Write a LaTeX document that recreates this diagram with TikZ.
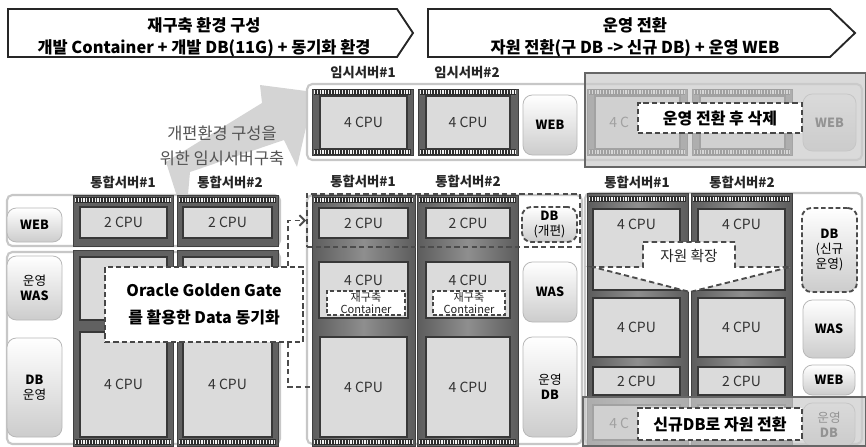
\documentclass[tikz,border=0pt]{standalone}
\usepackage{fontspec}
\setmainfont{Noto Sans CJK KR}
\usetikzlibrary{arrows.meta}
\newcommand\Bx[6]{\node[#1, inner sep=0pt, minimum width={(#4-#2)*0.75pt}, minimum height={(#5-#3)*0.75pt}] (#6) at ({(#2+#4)/2},{(#3+#5)/2})}
\newcommand\Pins[3]{\fill[black!82] (#1,#3-3) rectangle (#2,#3+3);\draw[black!6, line width=3.6pt, dash pattern=on 0.9pt off 1.2pt] (#1,#3) -- (#2,#3);}
\begin{document}
\begin{tikzpicture}[x=0.75pt,y=-0.75pt,
  hdr/.style={draw=black!85, line width=1.4pt, fill=white},
  htxt/.style={align=center, font=\fontsize{12.3}{16.5}\selectfont\bfseries, text=black},
  panel/.style={draw=black!22, line width=1.6pt, rounded corners=4pt, fill=white},
  chipc/.style={fill=black!62, draw=black!75, line width=0.4pt},
  mchip/.style={left color=black!64, right color=black!64, middle color=black!44, draw=black!75, line width=0.4pt},
  cpu/.style={draw=black!78, line width=1pt, fill=black!14, text=black!80, font=\fontsize{10.5}{12}\selectfont},
  cputext/.style={text=black!80, font=\fontsize{10.5}{12}\selectfont, inner sep=0pt},
  btn/.style={draw=black!28, line width=0.6pt, rounded corners=7pt, top color=white, bottom color=black!20, font=\fontsize{9.5}{11.5}\selectfont\bfseries, align=center},
  dbtn/.style={btn, draw=black!70, line width=1.4pt, dash pattern=on 3.5pt off 2pt},
  lbl/.style={font=\fontsize{10}{12}\selectfont\bfseries, text=black!85},
  dlab/.style={draw=black!72, dash pattern=on 4pt off 2.2pt, line width=1.5pt, fill=white, font=\fontsize{12}{20}\selectfont\bfseries, align=center},
  cbox/.style={draw=black!72, dash pattern=on 3pt off 1.8pt, line width=1.2pt, fill=white, font=\fontsize{8.3}{9.5}\selectfont, align=center, text=black!85},
  dconn/.style={draw=black!70, line width=1.4pt, dash pattern=on 4pt off 2.5pt},
  ovl/.style={fill=black!20, fill opacity=0.72, draw=black!60, line width=0.8pt}
]
\useasboundingbox (0,0) rectangle (866,446);

% big gray arrow
\fill[black!17] (180,206) -- (166,162) -- (262,103) -- (260,85) -- (314,92) -- (297,167) -- (284,140) -- (190,172) -- (187,206) -- cycle;
\node[align=center, text=black!68, font=\fontsize{12.3}{19}\selectfont] (note) at (222,146) {개편환경 구성을\\위한 임시서버구축};

% headers
\draw[hdr] (8,9) -- (397,9) -- (413,33) -- (397,57) -- (8,57) -- cycle;
\node[htxt] (h1) at (204,37) {재구축 환경 구성\\개발 Container + 개발 DB(11G) + 동기화 환경};
\draw[hdr] (428,9) -- (830,9) -- (855,33) -- (830,57) -- (428,57) -- cycle;
\node[htxt] (h2) at (635,37) {운영 전환\\자원 전환(구 DB -> 신규 DB) + 운영 WEB};

% temporary servers
\node[lbl] (tl1) at (363,73) {임시서버\#1};
\node[lbl] (tl2) at (467,73) {임시서버\#2};
\Bx{panel}{307}{84}{862}{160}{tpanel} {};
\Bx{chipc}{312}{89}{413}{155}{tc1} {};
\Bx{chipc}{418}{89}{518}{155}{tc2} {};
\Bx{chipc}{587}{89}{687}{155}{tc3} {};
\Bx{chipc}{692}{89}{792}{155}{tc4} {};
\Pins{314}{411}{92} \Pins{420}{516}{92} \Pins{589}{685}{92} \Pins{694}{790}{92}
\Pins{314}{411}{152} \Pins{420}{516}{152} \Pins{589}{685}{152} \Pins{694}{790}{152}
\Bx{cpu}{320}{96}{407}{149}{t1} {4 CPU};
\Bx{cpu}{426}{96}{510}{149}{t2} {4 CPU};
\Bx{cpu}{595}{96}{680}{149}{t3} {};
\node[cputext, anchor=west] (t3t) at (609,122) {4 C};
\Bx{cpu}{700}{96}{785}{149}{t4} {};
\Bx{btn}{523}{95}{577}{155}{tweb} {WEB};
\Bx{btn}{803}{94}{856}{151}{tweb2} {WEB};

% left block (current)
\node[lbl] (ll1) at (123,182) {통합서버\#1};
\node[lbl] (ll2) at (230,182) {통합서버\#2};
\Bx{panel}{7}{195}{280}{246}{lrow1} {};
\Bx{panel}{7}{252}{280}{444}{lrow2} {};
\Bx{chipc}{73}{195}{173}{246}{lc1a} {};
\Bx{chipc}{177}{195}{278}{246}{lc2a} {};
\Bx{chipc}{73}{250}{173}{446}{lc1b} {};
\Bx{chipc}{177}{250}{278}{446}{lc2b} {};
\Pins{75}{171}{200} \Pins{179}{276}{200} \Pins{75}{171}{442} \Pins{179}{276}{442}
\Bx{cpu}{80}{207}{167}{238}{l1web} {2 CPU};
\Bx{cpu}{183}{207}{272}{238}{l2web} {2 CPU};
\Bx{cpu}{80}{257}{167}{320}{l1was} {};
\Bx{cpu}{183}{257}{272}{320}{l2was} {};
\Bx{cpu}{80}{332}{167}{437}{l1db} {4 CPU};
\Bx{cpu}{183}{332}{272}{437}{l2db} {4 CPU};
\Bx{btn}{7}{208}{62}{242}{lweb} {WEB};
\Bx{btn}{7}{256}{62}{320}{lwas} {{\mdseries 운영}\\WAS};
\Bx{btn}{7}{338}{62}{437}{ldb} {DB\\{\mdseries 운영}};

% middle block (rebuild)
\node[lbl] (ml1) at (363,181) {통합서버\#1};
\node[lbl] (ml2) at (468,181) {통합서버\#2};
\Bx{panel}{307}{195}{582}{444}{mpanel} {};
\Bx{mchip}{312}{195}{415}{446}{mc1} {};
\Bx{mchip}{417}{195}{518}{446}{mc2} {};
\Pins{314}{413}{200} \Pins{419}{516}{200} \Pins{314}{413}{442} \Pins{419}{516}{442}
\Bx{cpu}{319}{208}{408}{238}{m1web} {2 CPU};
\Bx{cpu}{426}{208}{510}{238}{m2web} {2 CPU};
\Bx{cpu}{319}{262}{408}{318}{m1was} {};
\Bx{cpu}{426}{262}{510}{318}{m2was} {};
\node[cputext] (m1wt) at (363.5,280) {4 CPU};
\node[cputext] (m2wt) at (468,280) {4 CPU};
\Bx{cbox}{327}{291}{405}{315}{m1ct} {재구축\\Container};
\Bx{cbox}{433}{291}{505}{315}{m2ct} {재구축\\Container};
\Bx{cpu}{320}{337}{407}{437}{m1db} {4 CPU};
\Bx{cpu}{426}{337}{510}{437}{m2db} {4 CPU};
\Bx{dbtn}{522}{207}{577}{242}{mdbdev} {DB\\{\mdseries(개편)}};
\Bx{btn}{523}{262}{577}{322}{mwas} {WAS};
\Bx{btn}{523}{337}{577}{437}{mdb} {{\mdseries 운영}\\DB};
\Bx{dconn}{307}{194}{580}{247}{mdev} {};

% right block (operation)
\node[lbl] (rl1) at (637,182) {통합서버\#1};
\node[lbl] (rl2) at (742,182) {통합서버\#2};
\Bx{panel}{585}{193}{862}{444}{rpanel} {};
\Bx{mchip}{587}{193}{688}{446}{rc1} {};
\Bx{mchip}{691}{193}{792}{446}{rc2} {};
\Pins{589}{686}{199} \Pins{693}{790}{199}
\Bx{cpu}{593}{209}{680}{290}{r1a} {};
\Bx{cpu}{698}{209}{785}{290}{r2a} {};
\node[cputext] (r1at) at (636.5,224) {4 CPU};
\node[cputext] (r2at) at (741.5,224) {4 CPU};
\Bx{cpu}{593}{298}{680}{357}{r1b} {4 CPU};
\Bx{cpu}{698}{298}{785}{357}{r2b} {4 CPU};
\Bx{cpu}{593}{367}{680}{395}{r1c} {2 CPU};
\Bx{cpu}{698}{367}{785}{395}{r2c} {2 CPU};
\Bx{cpu}{593}{405}{680}{440}{r1d} {};
\node[cputext, anchor=west] (r1dt) at (609,423) {4 C};
\Bx{cpu}{698}{405}{785}{440}{r2d} {};
\Bx{dbtn}{802}{208}{857}{292}{rdbnew} {DB\\{\mdseries(신규}\\{\mdseries 운영)}};
\Bx{btn}{803}{300}{855}{358}{rwas} {WAS};
\Bx{btn}{803}{365}{855}{395}{rweb} {WEB};
\Bx{btn}{803}{403}{855}{446}{rdb} {{\mdseries 운영}\\DB};
\draw[dconn, fill=white] (643,242) -- (735,242) -- (735,267) -- (790,267) -- (690,292) -- (593,267) -- (643,267) -- cycle;
\node[text=black!85, font=\fontsize{11}{13}\selectfont] (expand) at (689,256) {자원 확장};

% OGG sync box and connectors
\Bx{dlab}{105}{267}{303}{342}{ogg} {Oracle Golden Gate\\를 활용한 Data 동기화};
\draw[dconn, -{Straight Barb[length=4pt, width=8pt]}] (ogg.north east) ++(-16,0) |- (mdev.west);
\draw[dconn, shorten >=5.5pt] (ogg.south east) ++(-16,0) |- (m1db.west);

% overlays
\Bx{ovl}{585}{73}{866}{167}{ovtop} {};
\Bx{dlab}{638}{103}{802}{133}{del} {운영 전환 후 삭제};
\Bx{ovl}{583}{397}{866}{446}{ovbot} {};
\Bx{dlab}{638}{408}{802}{440}{swap} {신규DB로 자원 전환};
\end{tikzpicture}
\end{document}
